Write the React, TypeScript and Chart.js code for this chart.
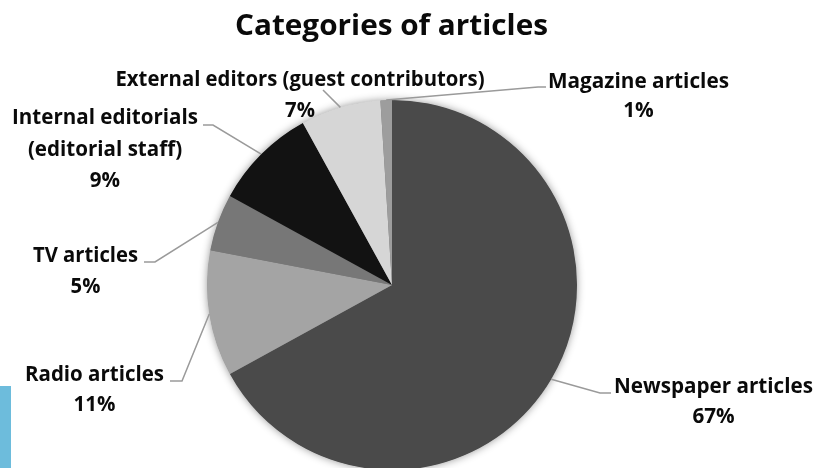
import React, { useEffect, useRef } from "react";
import { Chart, registerables } from "chart.js";

Chart.register(...registerables);

const TITLE = "Categories of articles";
const categories: (string | string[])[] = [
  "Newspaper articles",
  "Radio articles",
  "TV articles",
  ["Internal editorials", "(editorial staff)"],
  "External editors (guest contributors)",
  "Magazine articles",
];
const values: number[] = [67, 11, 5, 9, 7, 1];
const colors: string[] = ["#4a4a4a", "#a4a4a4", "#777777", "#121212", "#d6d6d6", "#9d9d9d"];

// label layout: centre x, first baseline, line height, fitted width of first line, leader elbow/end
const labelLayout = [
  { cx: 713.5, y: 393, lh: 30, w: 199, pts: [[600, 393], [611, 393]] },
  { cx: 94.5, y: 381, lh: 30, w: 139, pts: [[182, 381], [170, 381]] },
  { cx: 85.5, y: 262, lh: 31, w: 105, pts: [[155, 262], [144, 262]] },
  { cx: 105, y: 124, lh: 31.5, w: 186, pts: [[213, 125], [203, 125]] },
  { cx: 300, y: 86, lh: 31, w: 369, pts: [[323, 90]] },
  { cx: 638.5, y: 88, lh: 29, w: 181, pts: [[538, 87], [546, 87]] },
];

const FONT = "'Open Sans', 'DejaVu Sans', sans-serif";

function fitText(ctx: CanvasRenderingContext2D, text: string, x: number, y: number, sx: number) {
  ctx.save();
  ctx.translate(x, y);
  ctx.scale(sx, 1);
  ctx.textAlign = "center";
  ctx.textBaseline = "alphabetic";
  ctx.fillText(text, 0, 0);
  ctx.restore();
}

const annotPlugin = {
  id: "annot",
  beforeDatasetsDraw(chart: any) {
    const ctx: CanvasRenderingContext2D = chart.ctx;
    const arc = chart.getDatasetMeta(0).data[0];
    if (!arc) return;
    const { x, y, outerRadius } = arc.getProps(["x", "y", "outerRadius"], true);
    ctx.save();
    ctx.shadowColor = "rgba(0,0,0,0.45)";
    ctx.shadowBlur = 9;
    ctx.fillStyle = "#777";
    ctx.beginPath();
    ctx.arc(x, y, outerRadius - 0.5, 0, Math.PI * 2);
    ctx.fill();
    ctx.restore();
  },
  afterDraw(chart: any) {
    const ctx: CanvasRenderingContext2D = chart.ctx;
    ctx.save();
    ctx.fillStyle = "#0a0a0a";
    // title
    ctx.font = `bold 29px ${FONT}`;
    const tw = ctx.measureText(TITLE).width;
    fitText(ctx, TITLE, 391.5, 35, 313 / tw);

    const meta = chart.getDatasetMeta(0);
    meta.data.forEach((el: any, i: number) => {
      const L = labelLayout[i];
      const p = el.getProps(["x", "y", "startAngle", "endAngle", "outerRadius"], true);
      const mid = (p.startAngle + p.endAngle) / 2;
      const sx0 = p.x + Math.cos(mid) * p.outerRadius;
      const sy0 = p.y + Math.sin(mid) * p.outerRadius;
      ctx.strokeStyle = "#9a9a9a";
      ctx.lineWidth = 1.5;
      ctx.beginPath();
      ctx.moveTo(sx0, sy0);
      L.pts.forEach((pt) => ctx.lineTo(pt[0], pt[1]));
      ctx.stroke();

      const cat = categories[i];
      const lines = (Array.isArray(cat) ? cat : [cat]).concat([`${values[i]}%`]);
      ctx.font = `bold 21px ${FONT}`;
      const w0 = ctx.measureText(lines[0]).width;
      const sc = L.w / w0;
      ctx.fillStyle = "#0a0a0a";
      lines.forEach((t, k) => fitText(ctx, t, L.cx, L.y + k * L.lh, sc));
    });
    ctx.restore();
  },
};

export default function App() {
  const ref = useRef<HTMLCanvasElement | null>(null);
  useEffect(() => {
    if (!ref.current) return;
    const chart = new Chart(ref.current, {
      type: "pie",
      data: {
        labels: categories as any,
        datasets: [
          {
            data: values,
            backgroundColor: colors,
            borderWidth: 0,
          },
        ],
      },
      options: {
        responsive: false,
        animation: false,
        devicePixelRatio: 1,
        layout: { padding: { left: 207, right: 239, top: 100, bottom: 20 } },
        plugins: {
          legend: { display: false },
          tooltip: { enabled: false },
          title: { display: false },
        },
      } as any,
      plugins: [annotPlugin],
    });
    return () => chart.destroy();
  }, []);
  return (
    <div
      style={{
        position: "fixed",
        left: 0,
        top: 0,
        width: 816,
        height: 468,
        overflow: "hidden",
        background: "#fff",
      }}
    >
      <canvas ref={ref} width={816} height={490} style={{ display: "block" }} />
      <div
        style={{
          position: "absolute",
          left: 0,
          top: 386,
          width: 11,
          height: 82,
          background: "#6dbcdc",
        }}
      />
    </div>
  );
}
